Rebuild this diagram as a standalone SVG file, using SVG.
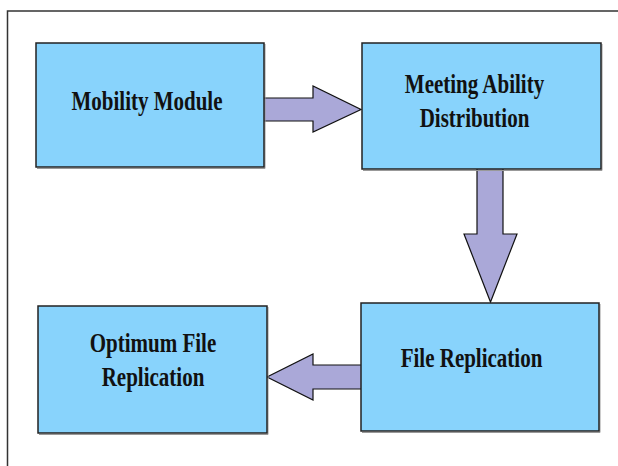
<svg xmlns="http://www.w3.org/2000/svg" width="618" height="466" viewBox="0 0 618 466">
<style>
.box{fill:#88D3FC;stroke:#222;stroke-width:1.5}
.sh{fill:none;stroke:#999;stroke-width:1}
.arr{fill:#AAA8D8;stroke:#111;stroke-width:1.2;stroke-linejoin:miter}
text{font-family:'Liberation Serif','Times New Roman',serif;font-weight:bold;font-size:21px;fill:#111;text-anchor:middle}
</style>
<rect width="618" height="466" fill="#fff"/>
<path d="M7.5,466 V11 H618" fill="none" stroke="#333" stroke-width="1.5"/>
<g id="connectors">
<polygon class="arr" points="262,98 313,98 313,86 361,109.5 313,132 313,121 262,121"/>
<polygon class="arr" points="477,168 503,168 503,234 517,234 490.5,302 464,234 477,234"/>
<polygon class="arr" points="363,365 313,365 313,354 267,377 313,400 313,389 363,389"/>
</g>
<g id="mobility">
<path class="sh" d="M37,168.5 H265 V44"/>
<rect class="box" x="36" y="43" width="228" height="124"/>
<text transform="translate(147,110) scale(1,1.3)">Mobility Module</text>
</g>
<g id="meeting">
<path class="sh" d="M363,170.5 H602 V44"/>
<rect class="box" x="362" y="43" width="239" height="126"/>
<text transform="translate(474.5,92.7) scale(1,1.3)">Meeting Ability</text>
<text transform="translate(474.5,126.7) scale(1,1.3)">Distribution</text>
</g>
<g id="file-replication">
<path class="sh" d="M362,432.5 H600 V304"/>
<rect class="box" x="361" y="303" width="238" height="128"/>
<text transform="translate(471.5,366.5) scale(1,1.3)">File Replication</text>
</g>
<g id="optimum">
<path class="sh" d="M39,434.5 H268 V307"/>
<rect class="box" x="38" y="306" width="229" height="127"/>
<text transform="translate(153,351.7) scale(1,1.3)">Optimum File</text>
<text transform="translate(153,385.7) scale(1,1.3)">Replication</text>
</g>
</svg>
